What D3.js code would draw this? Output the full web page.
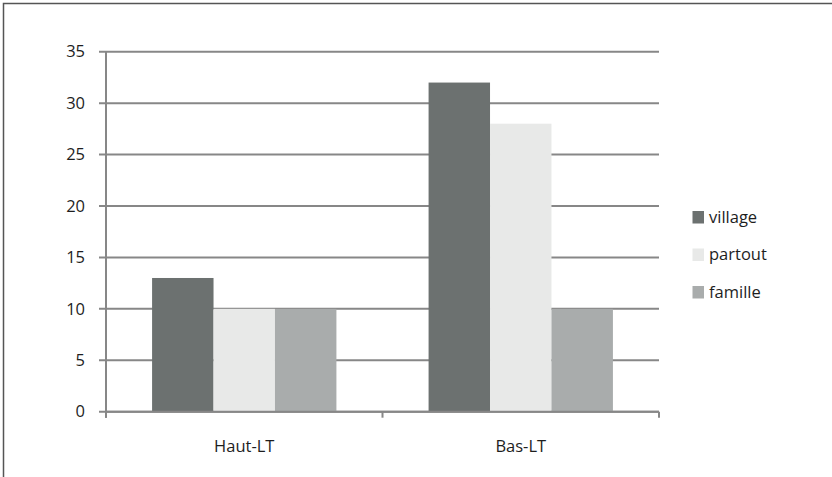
<!DOCTYPE html>
<html><head><meta charset="utf-8">
<script src="https://cdn.jsdelivr.net/npm/d3@7"></script>
<style>body{margin:0;background:#fff}svg{display:block}text{font-family:"Open Sans",sans-serif;fill:#1e1e1e}</style>
</head><body><svg id="c" width="832" height="477"></svg>
<script>
const categories = ["Haut-LT", "Bas-LT"];
const seriesNames = ["village", "partout", "famille"];
const village = [13, 32];
const partout = [10, 28];
const famille = [10, 10];
const yTicks = [0, 5, 10, 15, 20, 25, 30, 35];
const colors = ["#6c7170", "#e8e9e8", "#a9acac"];

const values = [village, partout, famille];
const svg = d3.select("#c");
const pLeft = 106, pRight = 659, pTop = 51.7, pBottom = 411.7;
const fs = 16.5;

// frame
svg.append("path").attr("d", `M3.5,477 V3.5 H832`).attr("fill","none").attr("stroke","#555").attr("stroke-width",1.5);

const y = d3.scaleLinear().domain([0, 35]).range([pBottom, pTop]);
const x0 = d3.scaleBand().domain(categories).range([pLeft, pRight]).paddingInner(0).paddingOuter(0);
const groupW = x0.bandwidth() * 3 / 4.5;
const x1 = d3.scaleBand().domain(seriesNames).range([0, groupW]).padding(0);

// gridlines
const grid = svg.append("g");
yTicks.forEach(t => {
  grid.append("line").attr("x1", pLeft - 7).attr("x2", pRight).attr("y1", y(t)).attr("y2", y(t))
    .attr("stroke", "#878787").attr("stroke-width", 2);
});

// bars
categories.forEach((c, i) => {
  const gx = x0(c) + (x0.bandwidth() - groupW) / 2;
  seriesNames.forEach((s, j) => {
    const v = values[j][i];
    svg.append("rect").attr("x", gx + x1(s)).attr("y", y(v)).attr("width", x1.bandwidth())
      .attr("height", y(0) - y(v)).attr("fill", colors[j]);
  });
});

// y axis
svg.append("line").attr("x1", pLeft).attr("x2", pLeft).attr("y1", pTop).attr("y2", pBottom + 6)
  .attr("stroke", "#878787").attr("stroke-width", 2);
yTicks.forEach(t => {
  svg.append("text").attr("x", 85).attr("y", y(t)).attr("dy", "0.35em").attr("text-anchor", "end")
    .attr("font-size", fs).text(t);
});

// x axis
svg.append("line").attr("x1", pLeft).attr("x2", pRight).attr("y1", pBottom).attr("y2", pBottom)
  .attr("stroke", "#878787").attr("stroke-width", 2);
const bounds = [pLeft, ...categories.map(c => x0(c) + x0.bandwidth())];
bounds.forEach(bx => {
  svg.append("line").attr("x1", bx).attr("x2", bx).attr("y1", pBottom).attr("y2", pBottom + 6)
    .attr("stroke", "#878787").attr("stroke-width", 2);
});
categories.forEach(c => {
  svg.append("text").attr("x", x0(c) + x0.bandwidth() / 2).attr("y", 452).attr("text-anchor", "middle")
    .attr("font-size", fs).text(c);
});

// legend
const legY = [217, 254.5, 292];
seriesNames.forEach((s, j) => {
  svg.append("rect").attr("x", 692.5).attr("y", legY[j] - 6).attr("width", 11.5).attr("height", 12.5).attr("fill", colors[j]);
  svg.append("text").attr("x", 709).attr("y", legY[j]).attr("dy", "0.35em").attr("font-size", fs).text(s);
});
</script></body></html>
